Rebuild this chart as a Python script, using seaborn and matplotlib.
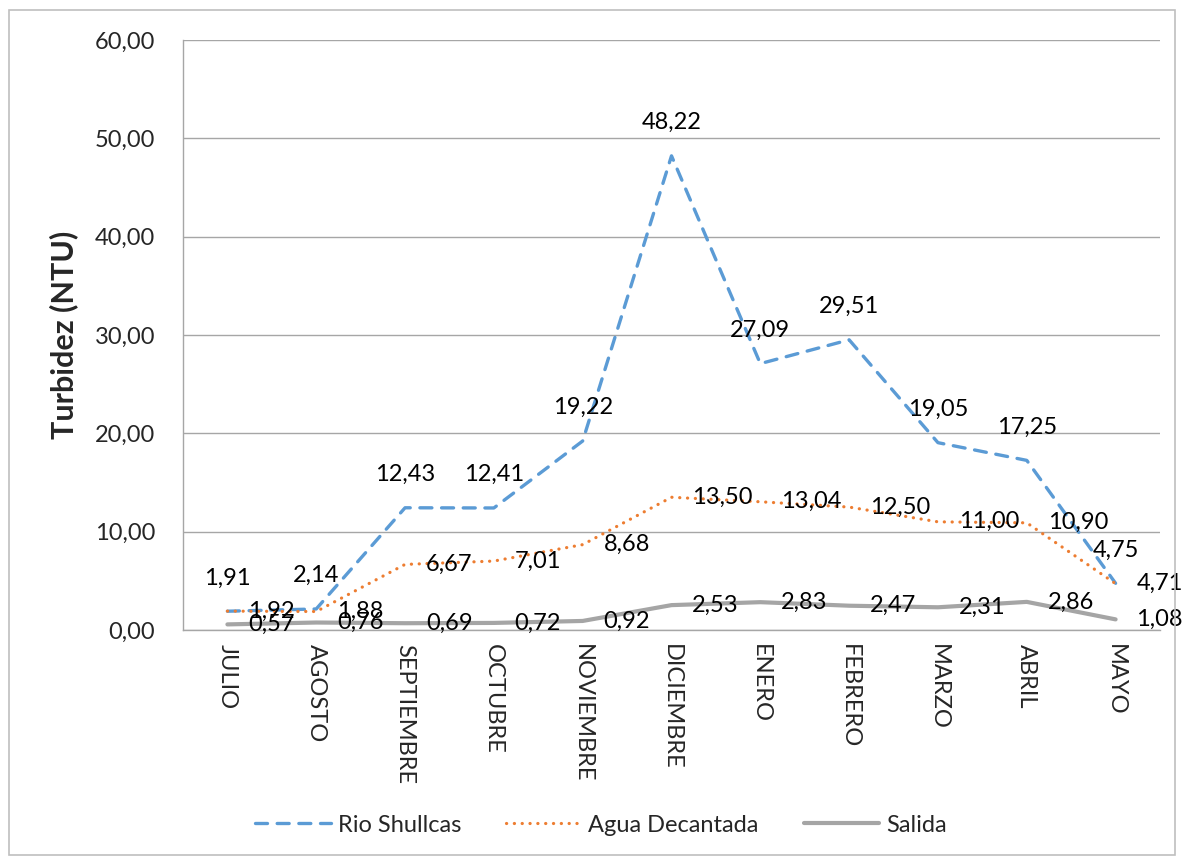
import matplotlib
matplotlib.use("Agg")
import matplotlib.pyplot as plt
from matplotlib.patches import Rectangle
from matplotlib.ticker import FuncFormatter
import seaborn as sns
import pandas as pd

# Monthly turbidity readings (NTU)
months = ["JULIO", "AGOSTO", "SEPTIEMBRE", "OCTUBRE", "NOVIEMBRE", "DICIEMBRE",
          "ENERO", "FEBRERO", "MARZO", "ABRIL", "MAYO"]
rio_shullcas = [1.91, 2.14, 12.43, 12.41, 19.22, 48.22, 27.09, 29.51, 19.05, 17.25, 4.75]
agua_decantada = [1.92, 1.88, 6.67, 7.01, 8.68, 13.50, 13.04, 12.50, 11.00, 10.90, 4.71]
salida = [0.57, 0.76, 0.69, 0.72, 0.92, 2.53, 2.83, 2.47, 2.31, 2.86, 1.08]
series_names = ["Rio Shullcas", "Agua Decantada", "Salida"]
y_ticks = [0, 10, 20, 30, 40, 50, 60]

sns.set_theme(style="white")
plt.rcParams["font.family"] = ["Lato", "DejaVu Sans"]

FS = 17
fig = plt.figure(figsize=(11.83, 8.6), dpi=100)
ax = fig.add_axes([183 / 1183, 1 - 630 / 860, (1160 - 183) / 1183, (630 - 40) / 860])

idx = list(range(len(months)))
frames = []
for name, vals in zip(series_names, [rio_shullcas, agua_decantada, salida]):
    frames.append(pd.DataFrame({"mes": idx, "valor": vals, "serie": name}))
df = pd.concat(frames, ignore_index=True)

styles = {
    "Rio Shullcas": dict(color="#5B9BD5", lw=2.4, dashes=(3.6, 2.9), cap="round"),
    "Agua Decantada": dict(color="#ED7D31", lw=2.3, dashes=(0.05, 2.4), cap="round"),
    "Salida": dict(color="#A5A5A5", lw=3.0, dashes=None, cap=None),
}

for name in series_names:
    st = styles[name]
    sub = df[df["serie"] == name]
    kw = {}
    if st["dashes"] is not None:
        kw["dashes"] = st["dashes"]
        kw["dash_capstyle"] = st["cap"]
    sns.lineplot(data=sub, x="mes", y="valor", ax=ax, color=st["color"],
                 linewidth=st["lw"], label=name, sort=False, **kw)

fmt = lambda v: f"{v:.2f}".replace(".", ",")

# Value labels: upstream above the point, the other two to the right
for i, v in enumerate(rio_shullcas):
    ax.annotate(fmt(v), (i, v), xytext=(0, 24), textcoords="offset points",
                ha="center", va="center", fontsize=FS, color="#000000")
for vals in (agua_decantada, salida):
    for i, v in enumerate(vals):
        ax.annotate(fmt(v), (i, v), xytext=(15, 0), textcoords="offset points",
                    ha="left", va="center", fontsize=FS, color="#000000")

ax.set_xlim(-0.5, len(months) - 0.5)
ax.set_ylim(0, 60)
ax.set_yticks(y_ticks)
ax.yaxis.set_major_formatter(FuncFormatter(lambda v, p: fmt(v)))
ax.set_xticks(idx)
ax.set_xticklabels(months, rotation=270, ha="center", va="top", fontsize=FS)
ax.tick_params(axis="y", labelsize=FS, length=0, pad=20)
ax.tick_params(axis="x", length=0, pad=10)
ax.grid(axis="y", color="#a6a6a6", linewidth=1)
ax.grid(axis="x", visible=False)
for s in ["top", "right"]:
    ax.spines[s].set_visible(False)
for s in ["left", "bottom"]:
    ax.spines[s].set_color("#a6a6a6")
    ax.spines[s].set_linewidth(1)
ax.set_xlabel("")
ax.set_ylabel("Turbidez (NTU)", fontsize=22, fontweight="bold", labelpad=12)

ax.legend(loc="center", bbox_to_anchor=(0.508, 1 - 825 / 860), bbox_transform=fig.transFigure,
          ncol=3, frameon=False, fontsize=FS, handlelength=3.2, handletextpad=0.3,
          columnspacing=1.9)

fig.patches.append(Rectangle((9 / 1183, 1 - 855 / 860), (1175 - 9) / 1183, (855 - 10) / 860,
                             transform=fig.transFigure, fill=False, edgecolor="#bfbfbf",
                             linewidth=1.2))

fig.savefig("out.png", dpi=100)
